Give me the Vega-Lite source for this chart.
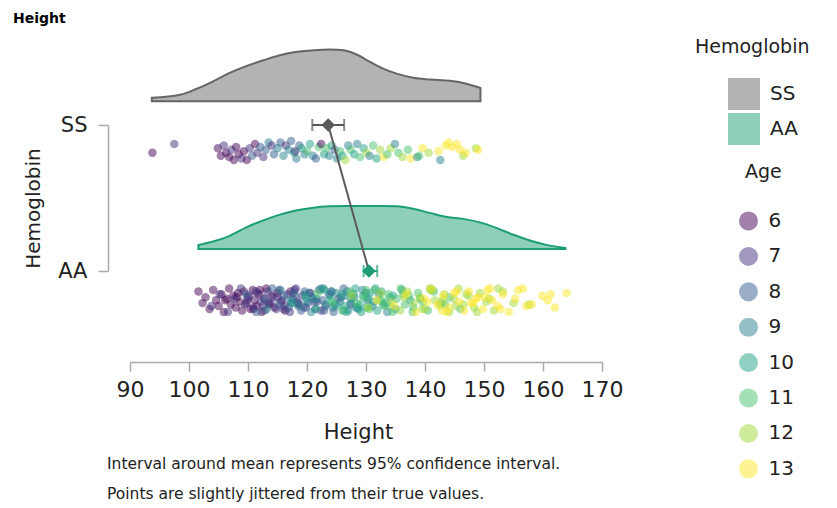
{
  "$schema": "https://vega.github.io/schema/vega-lite/v6.json",
  "padding": {"left": 12, "top": 12, "right": 5, "bottom": 5},
  "title": {"text": "Height", "anchor": "start", "frame": "bounds", "dx": -10, "fontSize": 14, "fontWeight": "bold", "color": "#000", "offset": 12},
  "datasets": {
    "points": [
      {"Hemoglobin":"SS","Age":6,"Height":93.8,"Lane":0.81},{"Hemoglobin":"SS","Age":7,"Height":97.5,"Lane":0.87},
      {"Hemoglobin":"SS","Age":6,"Height":104.9,"Lane":0.84},{"Hemoglobin":"SS","Age":6,"Height":105.4,"Lane":0.79},
      {"Hemoglobin":"SS","Age":7,"Height":105.9,"Lane":0.86},{"Hemoglobin":"SS","Age":6,"Height":106.3,"Lane":0.81},
      {"Hemoglobin":"SS","Age":6,"Height":106.8,"Lane":0.78},{"Hemoglobin":"SS","Age":7,"Height":107.2,"Lane":0.83},
      {"Hemoglobin":"SS","Age":6,"Height":107.6,"Lane":0.76},{"Hemoglobin":"SS","Age":6,"Height":108.0,"Lane":0.85},
      {"Hemoglobin":"SS","Age":6,"Height":108.4,"Lane":0.80},{"Hemoglobin":"SS","Age":7,"Height":108.9,"Lane":0.77},
      {"Hemoglobin":"SS","Age":6,"Height":109.3,"Lane":0.82},{"Hemoglobin":"SS","Age":6,"Height":109.8,"Lane":0.76},
      {"Hemoglobin":"SS","Age":7,"Height":110.3,"Lane":0.84},{"Hemoglobin":"SS","Age":8,"Height":110.7,"Lane":0.79},
      {"Hemoglobin":"SS","Age":6,"Height":111.2,"Lane":0.87},{"Hemoglobin":"SS","Age":7,"Height":111.6,"Lane":0.81},
      {"Hemoglobin":"SS","Age":8,"Height":112.1,"Lane":0.85},{"Hemoglobin":"SS","Age":7,"Height":112.6,"Lane":0.78},
      {"Hemoglobin":"SS","Age":8,"Height":113.0,"Lane":0.83},{"Hemoglobin":"SS","Age":9,"Height":113.5,"Lane":0.88},
      {"Hemoglobin":"SS","Age":7,"Height":114.0,"Lane":0.86},{"Hemoglobin":"SS","Age":8,"Height":114.4,"Lane":0.80},
      {"Hemoglobin":"SS","Age":9,"Height":115.0,"Lane":0.84},{"Hemoglobin":"SS","Age":8,"Height":115.5,"Lane":0.88},
      {"Hemoglobin":"SS","Age":9,"Height":116.0,"Lane":0.79},{"Hemoglobin":"SS","Age":7,"Height":116.4,"Lane":0.86},
      {"Hemoglobin":"SS","Age":9,"Height":116.9,"Lane":0.83},{"Hemoglobin":"SS","Age":8,"Height":117.3,"Lane":0.89},
      {"Hemoglobin":"SS","Age":10,"Height":117.8,"Lane":0.81},{"Hemoglobin":"SS","Age":9,"Height":118.2,"Lane":0.77},
      {"Hemoglobin":"SS","Age":8,"Height":118.7,"Lane":0.86},{"Hemoglobin":"SS","Age":10,"Height":119.1,"Lane":0.84},
      {"Hemoglobin":"SS","Age":9,"Height":119.6,"Lane":0.80},{"Hemoglobin":"SS","Age":11,"Height":120.0,"Lane":0.82},
      {"Hemoglobin":"SS","Age":10,"Height":120.5,"Lane":0.87},{"Hemoglobin":"SS","Age":9,"Height":121.0,"Lane":0.79},
      {"Hemoglobin":"SS","Age":8,"Height":121.5,"Lane":0.77},{"Hemoglobin":"SS","Age":11,"Height":122.0,"Lane":0.85},
      {"Hemoglobin":"SS","Age":6,"Height":122.4,"Lane":0.87},{"Hemoglobin":"SS","Age":10,"Height":122.9,"Lane":0.80},
      {"Hemoglobin":"SS","Age":11,"Height":123.3,"Lane":0.84},{"Hemoglobin":"SS","Age":9,"Height":123.8,"Lane":0.79},
      {"Hemoglobin":"SS","Age":10,"Height":124.2,"Lane":0.86},{"Hemoglobin":"SS","Age":8,"Height":124.7,"Lane":0.83},
      {"Hemoglobin":"SS","Age":9,"Height":125.1,"Lane":0.77},{"Hemoglobin":"SS","Age":11,"Height":125.6,"Lane":0.82},
      {"Hemoglobin":"SS","Age":10,"Height":126.0,"Lane":0.79},{"Hemoglobin":"SS","Age":12,"Height":126.5,"Lane":0.76},
      {"Hemoglobin":"SS","Age":9,"Height":127.0,"Lane":0.86},{"Hemoglobin":"SS","Age":11,"Height":127.4,"Lane":0.83},
      {"Hemoglobin":"SS","Age":10,"Height":128.0,"Lane":0.80},{"Hemoglobin":"SS","Age":9,"Height":128.5,"Lane":0.87},
      {"Hemoglobin":"SS","Age":11,"Height":129.0,"Lane":0.78},{"Hemoglobin":"SS","Age":10,"Height":129.6,"Lane":0.84},
      {"Hemoglobin":"SS","Age":12,"Height":130.1,"Lane":0.81},{"Hemoglobin":"SS","Age":9,"Height":130.6,"Lane":0.79},
      {"Hemoglobin":"SS","Age":11,"Height":131.2,"Lane":0.86},{"Hemoglobin":"SS","Age":10,"Height":131.8,"Lane":0.77},
      {"Hemoglobin":"SS","Age":12,"Height":132.4,"Lane":0.83},{"Hemoglobin":"SS","Age":13,"Height":133.0,"Lane":0.78},
      {"Hemoglobin":"SS","Age":11,"Height":133.6,"Lane":0.80},{"Hemoglobin":"SS","Age":12,"Height":134.2,"Lane":0.84},
      {"Hemoglobin":"SS","Age":9,"Height":134.9,"Lane":0.87},{"Hemoglobin":"SS","Age":11,"Height":135.5,"Lane":0.81},
      {"Hemoglobin":"SS","Age":12,"Height":136.2,"Lane":0.78},{"Hemoglobin":"SS","Age":11,"Height":137.1,"Lane":0.83},
      {"Hemoglobin":"SS","Age":13,"Height":137.6,"Lane":0.77},{"Hemoglobin":"SS","Age":9,"Height":138.7,"Lane":0.78},
      {"Hemoglobin":"SS","Age":11,"Height":139.0,"Lane":0.79},{"Hemoglobin":"SS","Age":13,"Height":139.6,"Lane":0.84},
      {"Hemoglobin":"SS","Age":12,"Height":140.6,"Lane":0.81},{"Hemoglobin":"SS","Age":13,"Height":142.3,"Lane":0.82},
      {"Hemoglobin":"SS","Age":9,"Height":142.6,"Lane":0.76},{"Hemoglobin":"SS","Age":13,"Height":143.5,"Lane":0.86},
      {"Hemoglobin":"SS","Age":13,"Height":144.0,"Lane":0.88},{"Hemoglobin":"SS","Age":13,"Height":144.6,"Lane":0.85},
      {"Hemoglobin":"SS","Age":13,"Height":145.4,"Lane":0.87},{"Hemoglobin":"SS","Age":13,"Height":145.9,"Lane":0.83},
      {"Hemoglobin":"SS","Age":12,"Height":146.5,"Lane":0.79},{"Hemoglobin":"SS","Age":13,"Height":146.9,"Lane":0.81},
      {"Hemoglobin":"SS","Age":12,"Height":148.6,"Lane":0.84},{"Hemoglobin":"SS","Age":13,"Height":149.0,"Lane":0.83},
      {"Hemoglobin":"SS","Age":7,"Height":118.0,"Lane":0.82},

      {"Hemoglobin":"AA","Age":6,"Height":101.6,"Lane":-0.14},{"Hemoglobin":"AA","Age":6,"Height":102.3,"Lane":-0.22},
      {"Hemoglobin":"AA","Age":6,"Height":102.8,"Lane":-0.18},{"Hemoglobin":"AA","Age":6,"Height":103.5,"Lane":-0.26},
      {"Hemoglobin":"AA","Age":6,"Height":104.1,"Lane":-0.13},{"Hemoglobin":"AA","Age":6,"Height":104.6,"Lane":-0.20},
      {"Hemoglobin":"AA","Age":6,"Height":105.0,"Lane":-0.24},{"Hemoglobin":"AA","Age":6,"Height":105.5,"Lane":-0.16},
      {"Hemoglobin":"AA","Age":6,"Height":105.9,"Lane":-0.28},{"Hemoglobin":"AA","Age":6,"Height":106.4,"Lane":-0.19},
      {"Hemoglobin":"AA","Age":6,"Height":106.8,"Lane":-0.12},{"Hemoglobin":"AA","Age":6,"Height":107.1,"Lane":-0.23},
      {"Hemoglobin":"AA","Age":6,"Height":107.5,"Lane":-0.17},{"Hemoglobin":"AA","Age":6,"Height":107.9,"Lane":-0.25},
      {"Hemoglobin":"AA","Age":6,"Height":108.3,"Lane":-0.15},{"Hemoglobin":"AA","Age":6,"Height":108.6,"Lane":-0.21},
      {"Hemoglobin":"AA","Age":6,"Height":109.0,"Lane":-0.27},{"Hemoglobin":"AA","Age":6,"Height":109.3,"Lane":-0.14},
      {"Hemoglobin":"AA","Age":6,"Height":109.7,"Lane":-0.22},{"Hemoglobin":"AA","Age":6,"Height":110.0,"Lane":-0.18},
      {"Hemoglobin":"AA","Age":6,"Height":110.4,"Lane":-0.26},{"Hemoglobin":"AA","Age":6,"Height":110.8,"Lane":-0.13},
      {"Hemoglobin":"AA","Age":6,"Height":111.1,"Lane":-0.20},{"Hemoglobin":"AA","Age":6,"Height":111.5,"Lane":-0.24},
      {"Hemoglobin":"AA","Age":6,"Height":111.9,"Lane":-0.16},{"Hemoglobin":"AA","Age":6,"Height":112.3,"Lane":-0.28},
      {"Hemoglobin":"AA","Age":6,"Height":112.7,"Lane":-0.19},{"Hemoglobin":"AA","Age":6,"Height":113.1,"Lane":-0.12},
      {"Hemoglobin":"AA","Age":6,"Height":113.6,"Lane":-0.23},{"Hemoglobin":"AA","Age":6,"Height":114.0,"Lane":-0.17},
      {"Hemoglobin":"AA","Age":6,"Height":114.5,"Lane":-0.25},{"Hemoglobin":"AA","Age":6,"Height":115.0,"Lane":-0.15},
      {"Hemoglobin":"AA","Age":6,"Height":115.6,"Lane":-0.21},{"Hemoglobin":"AA","Age":6,"Height":116.3,"Lane":-0.27},
      {"Hemoglobin":"AA","Age":6,"Height":117.2,"Lane":-0.14},{"Hemoglobin":"AA","Age":6,"Height":118.4,"Lane":-0.22},
      {"Hemoglobin":"AA","Age":6,"Height":108.1,"Lane":-0.18},{"Hemoglobin":"AA","Age":6,"Height":110.9,"Lane":-0.26},
      {"Hemoglobin":"AA","Age":6,"Height":112.0,"Lane":-0.13},{"Hemoglobin":"AA","Age":6,"Height":106.1,"Lane":-0.20},

      {"Hemoglobin":"AA","Age":7,"Height":103.8,"Lane":-0.24},{"Hemoglobin":"AA","Age":7,"Height":105.2,"Lane":-0.16},
      {"Hemoglobin":"AA","Age":7,"Height":106.6,"Lane":-0.28},{"Hemoglobin":"AA","Age":7,"Height":107.7,"Lane":-0.19},
      {"Hemoglobin":"AA","Age":7,"Height":108.8,"Lane":-0.12},{"Hemoglobin":"AA","Age":7,"Height":109.5,"Lane":-0.23},
      {"Hemoglobin":"AA","Age":7,"Height":110.2,"Lane":-0.17},{"Hemoglobin":"AA","Age":7,"Height":110.9,"Lane":-0.25},
      {"Hemoglobin":"AA","Age":7,"Height":111.6,"Lane":-0.15},{"Hemoglobin":"AA","Age":7,"Height":112.2,"Lane":-0.21},
      {"Hemoglobin":"AA","Age":7,"Height":112.8,"Lane":-0.27},{"Hemoglobin":"AA","Age":7,"Height":113.3,"Lane":-0.14},
      {"Hemoglobin":"AA","Age":7,"Height":113.8,"Lane":-0.22},{"Hemoglobin":"AA","Age":7,"Height":114.3,"Lane":-0.18},
      {"Hemoglobin":"AA","Age":7,"Height":114.8,"Lane":-0.26},{"Hemoglobin":"AA","Age":7,"Height":115.3,"Lane":-0.13},
      {"Hemoglobin":"AA","Age":7,"Height":115.8,"Lane":-0.20},{"Hemoglobin":"AA","Age":7,"Height":116.2,"Lane":-0.24},
      {"Hemoglobin":"AA","Age":7,"Height":116.7,"Lane":-0.16},{"Hemoglobin":"AA","Age":7,"Height":117.1,"Lane":-0.28},
      {"Hemoglobin":"AA","Age":7,"Height":117.6,"Lane":-0.19},{"Hemoglobin":"AA","Age":7,"Height":118.1,"Lane":-0.12},
      {"Hemoglobin":"AA","Age":7,"Height":118.6,"Lane":-0.23},{"Hemoglobin":"AA","Age":7,"Height":119.2,"Lane":-0.17},
      {"Hemoglobin":"AA","Age":7,"Height":119.8,"Lane":-0.25},{"Hemoglobin":"AA","Age":7,"Height":120.5,"Lane":-0.15},
      {"Hemoglobin":"AA","Age":7,"Height":121.3,"Lane":-0.21},{"Hemoglobin":"AA","Age":7,"Height":122.4,"Lane":-0.27},
      {"Hemoglobin":"AA","Age":7,"Height":111.3,"Lane":-0.14},{"Hemoglobin":"AA","Age":7,"Height":113.5,"Lane":-0.22},
      {"Hemoglobin":"AA","Age":7,"Height":115.0,"Lane":-0.18},{"Hemoglobin":"AA","Age":7,"Height":116.0,"Lane":-0.26},
      {"Hemoglobin":"AA","Age":7,"Height":117.9,"Lane":-0.13},{"Hemoglobin":"AA","Age":7,"Height":109.9,"Lane":-0.20},
      {"Hemoglobin":"AA","Age":7,"Height":112.5,"Lane":-0.24},

      {"Hemoglobin":"AA","Age":8,"Height":109.6,"Lane":-0.16},{"Hemoglobin":"AA","Age":8,"Height":111.4,"Lane":-0.28},
      {"Hemoglobin":"AA","Age":8,"Height":112.9,"Lane":-0.19},{"Hemoglobin":"AA","Age":8,"Height":114.1,"Lane":-0.12},
      {"Hemoglobin":"AA","Age":8,"Height":115.2,"Lane":-0.23},{"Hemoglobin":"AA","Age":8,"Height":116.1,"Lane":-0.17},
      {"Hemoglobin":"AA","Age":8,"Height":116.9,"Lane":-0.25},{"Hemoglobin":"AA","Age":8,"Height":117.7,"Lane":-0.15},
      {"Hemoglobin":"AA","Age":8,"Height":118.4,"Lane":-0.21},{"Hemoglobin":"AA","Age":8,"Height":119.0,"Lane":-0.27},
      {"Hemoglobin":"AA","Age":8,"Height":119.6,"Lane":-0.14},{"Hemoglobin":"AA","Age":8,"Height":120.2,"Lane":-0.22},
      {"Hemoglobin":"AA","Age":8,"Height":120.8,"Lane":-0.18},{"Hemoglobin":"AA","Age":8,"Height":121.4,"Lane":-0.26},
      {"Hemoglobin":"AA","Age":8,"Height":122.0,"Lane":-0.13},{"Hemoglobin":"AA","Age":8,"Height":122.6,"Lane":-0.20},
      {"Hemoglobin":"AA","Age":8,"Height":123.2,"Lane":-0.24},{"Hemoglobin":"AA","Age":8,"Height":123.8,"Lane":-0.16},
      {"Hemoglobin":"AA","Age":8,"Height":124.5,"Lane":-0.28},{"Hemoglobin":"AA","Age":8,"Height":125.3,"Lane":-0.19},
      {"Hemoglobin":"AA","Age":8,"Height":126.2,"Lane":-0.12},{"Hemoglobin":"AA","Age":8,"Height":127.4,"Lane":-0.23},
      {"Hemoglobin":"AA","Age":8,"Height":118.0,"Lane":-0.17},{"Hemoglobin":"AA","Age":8,"Height":119.4,"Lane":-0.25},
      {"Hemoglobin":"AA","Age":8,"Height":120.5,"Lane":-0.15},{"Hemoglobin":"AA","Age":8,"Height":121.7,"Lane":-0.21},
      {"Hemoglobin":"AA","Age":8,"Height":122.9,"Lane":-0.27},{"Hemoglobin":"AA","Age":8,"Height":124.1,"Lane":-0.14},
      {"Hemoglobin":"AA","Age":8,"Height":117.3,"Lane":-0.22},{"Hemoglobin":"AA","Age":8,"Height":125.8,"Lane":-0.18},

      {"Hemoglobin":"AA","Age":9,"Height":113.2,"Lane":-0.26},{"Hemoglobin":"AA","Age":9,"Height":115.5,"Lane":-0.13},
      {"Hemoglobin":"AA","Age":9,"Height":117.2,"Lane":-0.20},{"Hemoglobin":"AA","Age":9,"Height":118.5,"Lane":-0.24},
      {"Hemoglobin":"AA","Age":9,"Height":119.7,"Lane":-0.16},{"Hemoglobin":"AA","Age":9,"Height":120.7,"Lane":-0.28},
      {"Hemoglobin":"AA","Age":9,"Height":121.6,"Lane":-0.19},{"Hemoglobin":"AA","Age":9,"Height":122.4,"Lane":-0.12},
      {"Hemoglobin":"AA","Age":9,"Height":123.1,"Lane":-0.23},{"Hemoglobin":"AA","Age":9,"Height":123.8,"Lane":-0.17},
      {"Hemoglobin":"AA","Age":9,"Height":124.4,"Lane":-0.25},{"Hemoglobin":"AA","Age":9,"Height":125.0,"Lane":-0.15},
      {"Hemoglobin":"AA","Age":9,"Height":125.6,"Lane":-0.21},{"Hemoglobin":"AA","Age":9,"Height":126.2,"Lane":-0.27},
      {"Hemoglobin":"AA","Age":9,"Height":126.8,"Lane":-0.14},{"Hemoglobin":"AA","Age":9,"Height":127.4,"Lane":-0.22},
      {"Hemoglobin":"AA","Age":9,"Height":128.0,"Lane":-0.18},{"Hemoglobin":"AA","Age":9,"Height":128.7,"Lane":-0.26},
      {"Hemoglobin":"AA","Age":9,"Height":129.4,"Lane":-0.13},{"Hemoglobin":"AA","Age":9,"Height":130.2,"Lane":-0.20},
      {"Hemoglobin":"AA","Age":9,"Height":131.1,"Lane":-0.24},{"Hemoglobin":"AA","Age":9,"Height":132.2,"Lane":-0.16},
      {"Hemoglobin":"AA","Age":9,"Height":133.6,"Lane":-0.28},{"Hemoglobin":"AA","Age":9,"Height":121.0,"Lane":-0.19},
      {"Hemoglobin":"AA","Age":9,"Height":122.8,"Lane":-0.12},{"Hemoglobin":"AA","Age":9,"Height":124.7,"Lane":-0.23},
      {"Hemoglobin":"AA","Age":9,"Height":126.5,"Lane":-0.17},{"Hemoglobin":"AA","Age":9,"Height":128.3,"Lane":-0.25},
      {"Hemoglobin":"AA","Age":9,"Height":130.0,"Lane":-0.15},{"Hemoglobin":"AA","Age":9,"Height":119.9,"Lane":-0.21},
      {"Hemoglobin":"AA","Age":9,"Height":127.0,"Lane":-0.27},{"Hemoglobin":"AA","Age":9,"Height":124.2,"Lane":-0.14},

      {"Hemoglobin":"AA","Age":10,"Height":117.5,"Lane":-0.22},{"Hemoglobin":"AA","Age":10,"Height":119.8,"Lane":-0.18},
      {"Hemoglobin":"AA","Age":10,"Height":121.5,"Lane":-0.26},{"Hemoglobin":"AA","Age":10,"Height":122.9,"Lane":-0.13},
      {"Hemoglobin":"AA","Age":10,"Height":124.0,"Lane":-0.20},{"Hemoglobin":"AA","Age":10,"Height":125.0,"Lane":-0.24},
      {"Hemoglobin":"AA","Age":10,"Height":125.9,"Lane":-0.16},{"Hemoglobin":"AA","Age":10,"Height":126.7,"Lane":-0.28},
      {"Hemoglobin":"AA","Age":10,"Height":127.5,"Lane":-0.19},{"Hemoglobin":"AA","Age":10,"Height":128.2,"Lane":-0.12},
      {"Hemoglobin":"AA","Age":10,"Height":128.9,"Lane":-0.23},{"Hemoglobin":"AA","Age":10,"Height":129.5,"Lane":-0.17},
      {"Hemoglobin":"AA","Age":10,"Height":130.1,"Lane":-0.25},{"Hemoglobin":"AA","Age":10,"Height":130.7,"Lane":-0.15},
      {"Hemoglobin":"AA","Age":10,"Height":131.3,"Lane":-0.21},{"Hemoglobin":"AA","Age":10,"Height":131.9,"Lane":-0.27},
      {"Hemoglobin":"AA","Age":10,"Height":132.6,"Lane":-0.14},{"Hemoglobin":"AA","Age":10,"Height":133.3,"Lane":-0.22},
      {"Hemoglobin":"AA","Age":10,"Height":134.1,"Lane":-0.18},{"Hemoglobin":"AA","Age":10,"Height":135.0,"Lane":-0.26},
      {"Hemoglobin":"AA","Age":10,"Height":136.1,"Lane":-0.13},{"Hemoglobin":"AA","Age":10,"Height":137.5,"Lane":-0.20},
      {"Hemoglobin":"AA","Age":10,"Height":126.3,"Lane":-0.24},{"Hemoglobin":"AA","Age":10,"Height":127.9,"Lane":-0.16},
      {"Hemoglobin":"AA","Age":10,"Height":129.2,"Lane":-0.28},{"Hemoglobin":"AA","Age":10,"Height":130.4,"Lane":-0.19},
      {"Hemoglobin":"AA","Age":10,"Height":131.6,"Lane":-0.12},{"Hemoglobin":"AA","Age":10,"Height":132.9,"Lane":-0.23},
      {"Hemoglobin":"AA","Age":10,"Height":134.6,"Lane":-0.17},{"Hemoglobin":"AA","Age":10,"Height":128.6,"Lane":-0.25},

      {"Hemoglobin":"AA","Age":11,"Height":121.8,"Lane":-0.15},{"Hemoglobin":"AA","Age":11,"Height":124.3,"Lane":-0.21},
      {"Hemoglobin":"AA","Age":11,"Height":126.0,"Lane":-0.27},{"Hemoglobin":"AA","Age":11,"Height":127.3,"Lane":-0.14},
      {"Hemoglobin":"AA","Age":11,"Height":128.5,"Lane":-0.22},{"Hemoglobin":"AA","Age":11,"Height":129.6,"Lane":-0.18},
      {"Hemoglobin":"AA","Age":11,"Height":130.6,"Lane":-0.26},{"Hemoglobin":"AA","Age":11,"Height":131.5,"Lane":-0.13},
      {"Hemoglobin":"AA","Age":11,"Height":132.3,"Lane":-0.20},{"Hemoglobin":"AA","Age":11,"Height":133.1,"Lane":-0.24},
      {"Hemoglobin":"AA","Age":11,"Height":133.8,"Lane":-0.16},{"Hemoglobin":"AA","Age":11,"Height":134.5,"Lane":-0.28},
      {"Hemoglobin":"AA","Age":11,"Height":135.2,"Lane":-0.19},{"Hemoglobin":"AA","Age":11,"Height":135.9,"Lane":-0.12},
      {"Hemoglobin":"AA","Age":11,"Height":136.6,"Lane":-0.23},{"Hemoglobin":"AA","Age":11,"Height":137.3,"Lane":-0.17},
      {"Hemoglobin":"AA","Age":11,"Height":138.0,"Lane":-0.25},{"Hemoglobin":"AA","Age":11,"Height":138.8,"Lane":-0.15},
      {"Hemoglobin":"AA","Age":11,"Height":139.6,"Lane":-0.21},{"Hemoglobin":"AA","Age":11,"Height":140.5,"Lane":-0.27},
      {"Hemoglobin":"AA","Age":11,"Height":141.5,"Lane":-0.14},{"Hemoglobin":"AA","Age":11,"Height":142.7,"Lane":-0.22},
      {"Hemoglobin":"AA","Age":11,"Height":144.2,"Lane":-0.18},{"Hemoglobin":"AA","Age":11,"Height":146.0,"Lane":-0.26},
      {"Hemoglobin":"AA","Age":11,"Height":130.0,"Lane":-0.13},{"Hemoglobin":"AA","Age":11,"Height":132.7,"Lane":-0.20},
      {"Hemoglobin":"AA","Age":11,"Height":134.0,"Lane":-0.24},{"Hemoglobin":"AA","Age":11,"Height":136.3,"Lane":-0.16},
      {"Hemoglobin":"AA","Age":11,"Height":137.9,"Lane":-0.28},{"Hemoglobin":"AA","Age":11,"Height":139.2,"Lane":-0.19},
      {"Hemoglobin":"AA","Age":11,"Height":140.9,"Lane":-0.12},{"Hemoglobin":"AA","Age":11,"Height":143.4,"Lane":-0.23},

      {"Hemoglobin":"AA","Age":12,"Height":127.6,"Lane":-0.17},{"Hemoglobin":"AA","Age":12,"Height":130.3,"Lane":-0.25},
      {"Hemoglobin":"AA","Age":12,"Height":132.5,"Lane":-0.15},{"Hemoglobin":"AA","Age":12,"Height":134.3,"Lane":-0.21},
      {"Hemoglobin":"AA","Age":12,"Height":135.8,"Lane":-0.27},{"Hemoglobin":"AA","Age":12,"Height":137.0,"Lane":-0.14},
      {"Hemoglobin":"AA","Age":12,"Height":138.1,"Lane":-0.22},{"Hemoglobin":"AA","Age":12,"Height":139.1,"Lane":-0.18},
      {"Hemoglobin":"AA","Age":12,"Height":140.0,"Lane":-0.26},{"Hemoglobin":"AA","Age":12,"Height":140.9,"Lane":-0.13},
      {"Hemoglobin":"AA","Age":12,"Height":141.7,"Lane":-0.20},{"Hemoglobin":"AA","Age":12,"Height":142.5,"Lane":-0.24},
      {"Hemoglobin":"AA","Age":12,"Height":143.3,"Lane":-0.16},{"Hemoglobin":"AA","Age":12,"Height":144.1,"Lane":-0.28},
      {"Hemoglobin":"AA","Age":12,"Height":144.9,"Lane":-0.19},{"Hemoglobin":"AA","Age":12,"Height":145.7,"Lane":-0.12},
      {"Hemoglobin":"AA","Age":12,"Height":146.5,"Lane":-0.23},{"Hemoglobin":"AA","Age":12,"Height":147.4,"Lane":-0.17},
      {"Hemoglobin":"AA","Age":12,"Height":148.3,"Lane":-0.25},{"Hemoglobin":"AA","Age":12,"Height":149.3,"Lane":-0.15},
      {"Hemoglobin":"AA","Age":12,"Height":150.4,"Lane":-0.21},{"Hemoglobin":"AA","Age":12,"Height":151.7,"Lane":-0.27},
      {"Hemoglobin":"AA","Age":12,"Height":153.2,"Lane":-0.14},{"Hemoglobin":"AA","Age":12,"Height":155.0,"Lane":-0.22},
      {"Hemoglobin":"AA","Age":12,"Height":136.5,"Lane":-0.18},{"Hemoglobin":"AA","Age":12,"Height":139.5,"Lane":-0.26},
      {"Hemoglobin":"AA","Age":12,"Height":141.3,"Lane":-0.13},{"Hemoglobin":"AA","Age":12,"Height":143.0,"Lane":-0.20},
      {"Hemoglobin":"AA","Age":12,"Height":145.2,"Lane":-0.24},{"Hemoglobin":"AA","Age":12,"Height":147.0,"Lane":-0.16},
      {"Hemoglobin":"AA","Age":12,"Height":148.8,"Lane":-0.28},{"Hemoglobin":"AA","Age":12,"Height":150.9,"Lane":-0.19},
      {"Hemoglobin":"AA","Age":12,"Height":152.4,"Lane":-0.12},{"Hemoglobin":"AA","Age":12,"Height":157.6,"Lane":-0.23},

      {"Hemoglobin":"AA","Age":13,"Height":131.8,"Lane":-0.20},{"Hemoglobin":"AA","Age":13,"Height":134.8,"Lane":-0.24},
      {"Hemoglobin":"AA","Age":13,"Height":136.8,"Lane":-0.16},{"Hemoglobin":"AA","Age":13,"Height":138.4,"Lane":-0.28},
      {"Hemoglobin":"AA","Age":13,"Height":139.8,"Lane":-0.19},{"Hemoglobin":"AA","Age":13,"Height":141.0,"Lane":-0.12},
      {"Hemoglobin":"AA","Age":13,"Height":142.1,"Lane":-0.23},{"Hemoglobin":"AA","Age":13,"Height":143.1,"Lane":-0.17},
      {"Hemoglobin":"AA","Age":13,"Height":144.0,"Lane":-0.25},{"Hemoglobin":"AA","Age":13,"Height":144.9,"Lane":-0.15},
      {"Hemoglobin":"AA","Age":13,"Height":145.8,"Lane":-0.21},{"Hemoglobin":"AA","Age":13,"Height":146.6,"Lane":-0.27},
      {"Hemoglobin":"AA","Age":13,"Height":147.4,"Lane":-0.14},{"Hemoglobin":"AA","Age":13,"Height":148.2,"Lane":-0.22},
      {"Hemoglobin":"AA","Age":13,"Height":149.0,"Lane":-0.18},{"Hemoglobin":"AA","Age":13,"Height":149.8,"Lane":-0.26},
      {"Hemoglobin":"AA","Age":13,"Height":150.6,"Lane":-0.13},{"Hemoglobin":"AA","Age":13,"Height":151.4,"Lane":-0.20},
      {"Hemoglobin":"AA","Age":13,"Height":152.3,"Lane":-0.24},{"Hemoglobin":"AA","Age":13,"Height":153.2,"Lane":-0.16},
      {"Hemoglobin":"AA","Age":13,"Height":154.2,"Lane":-0.28},{"Hemoglobin":"AA","Age":13,"Height":155.3,"Lane":-0.19},
      {"Hemoglobin":"AA","Age":13,"Height":156.6,"Lane":-0.12},{"Hemoglobin":"AA","Age":13,"Height":158.1,"Lane":-0.23},
      {"Hemoglobin":"AA","Age":13,"Height":159.9,"Lane":-0.17},{"Hemoglobin":"AA","Age":13,"Height":162.0,"Lane":-0.25},
      {"Hemoglobin":"AA","Age":13,"Height":164.0,"Lane":-0.15},{"Hemoglobin":"AA","Age":13,"Height":140.4,"Lane":-0.21},
      {"Hemoglobin":"AA","Age":13,"Height":142.9,"Lane":-0.27},{"Hemoglobin":"AA","Age":13,"Height":145.4,"Lane":-0.14},
      {"Hemoglobin":"AA","Age":13,"Height":147.8,"Lane":-0.22},{"Hemoglobin":"AA","Age":13,"Height":150.2,"Lane":-0.18},
      {"Hemoglobin":"AA","Age":13,"Height":152.8,"Lane":-0.26},{"Hemoglobin":"AA","Age":13,"Height":155.8,"Lane":-0.13},
      {"Hemoglobin":"AA","Age":13,"Height":160.8,"Lane":-0.20},{"Hemoglobin":"AA","Age":13,"Height":157.2,"Lane":-0.24},
      {"Hemoglobin":"AA","Age":13,"Height":161.3,"Lane":-0.16},{"Hemoglobin":"AA","Age":13,"Height":143.7,"Lane":-0.28},
      {"Hemoglobin":"AA","Age":13,"Height":148.6,"Lane":-0.19},{"Hemoglobin":"AA","Age":13,"Height":151.0,"Lane":-0.12}
    ],
    "density": [
      {"Hemoglobin":"SS","Height":93.7,"Top":1.186},{"Hemoglobin":"SS","Height":98.5,"Top":1.207},
      {"Hemoglobin":"SS","Height":101.3,"Top":1.248},{"Hemoglobin":"SS","Height":104.1,"Top":1.299},
      {"Hemoglobin":"SS","Height":106.9,"Top":1.357},{"Hemoglobin":"SS","Height":109.8,"Top":1.405},
      {"Hemoglobin":"SS","Height":112.6,"Top":1.443},{"Hemoglobin":"SS","Height":115.4,"Top":1.478},
      {"Hemoglobin":"SS","Height":118.3,"Top":1.501},{"Hemoglobin":"SS","Height":121.1,"Top":1.512},
      {"Hemoglobin":"SS","Height":123.9,"Top":1.517},{"Hemoglobin":"SS","Height":126.2,"Top":1.512},
      {"Hemoglobin":"SS","Height":128.4,"Top":1.483},{"Hemoglobin":"SS","Height":130.7,"Top":1.432},
      {"Hemoglobin":"SS","Height":132.9,"Top":1.386},{"Hemoglobin":"SS","Height":135.2,"Top":1.352},
      {"Hemoglobin":"SS","Height":138.0,"Top":1.324},{"Hemoglobin":"SS","Height":140.8,"Top":1.312},
      {"Hemoglobin":"SS","Height":144.2,"Top":1.303},{"Hemoglobin":"SS","Height":146.5,"Top":1.288},
      {"Hemoglobin":"SS","Height":149.4,"Top":1.253},
      {"Hemoglobin":"AA","Height":101.6,"Top":0.179},{"Hemoglobin":"AA","Height":104.1,"Top":0.202},
      {"Hemoglobin":"AA","Height":106.9,"Top":0.241},{"Hemoglobin":"AA","Height":109.8,"Top":0.301},
      {"Hemoglobin":"AA","Height":112.6,"Top":0.347},{"Hemoglobin":"AA","Height":115.4,"Top":0.386},
      {"Hemoglobin":"AA","Height":118.3,"Top":0.416},{"Hemoglobin":"AA","Height":121.1,"Top":0.434},
      {"Hemoglobin":"AA","Height":123.9,"Top":0.443},{"Hemoglobin":"AA","Height":126.7,"Top":0.446},
      {"Hemoglobin":"AA","Height":129.5,"Top":0.446},{"Hemoglobin":"AA","Height":132.4,"Top":0.446},
      {"Hemoglobin":"AA","Height":135.2,"Top":0.443},{"Hemoglobin":"AA","Height":138.0,"Top":0.426},
      {"Hemoglobin":"AA","Height":140.8,"Top":0.398},{"Hemoglobin":"AA","Height":143.7,"Top":0.370},
      {"Hemoglobin":"AA","Height":146.5,"Top":0.357},{"Hemoglobin":"AA","Height":149.3,"Top":0.333},
      {"Hemoglobin":"AA","Height":152.2,"Top":0.294},{"Hemoglobin":"AA","Height":155.0,"Top":0.248},
      {"Hemoglobin":"AA","Height":157.8,"Top":0.209},{"Hemoglobin":"AA","Height":160.6,"Top":0.179},
      {"Hemoglobin":"AA","Height":163.8,"Top":0.157}
    ],
    "means": [
      {"Hemoglobin":"SS","Lane":1,"Mean":123.6,"Lo":120.9,"Hi":126.3},
      {"Hemoglobin":"AA","Lane":0,"Mean":130.5,"Lo":129.6,"Hi":131.9}
    ]
  },
  "vconcat": [
    {
      "width": 472,
      "height": 146,
      "title": {
        "text": ["Interval around mean represents 95% confidence interval.", "Points are slightly jittered from their true values."],
        "orient": "bottom", "anchor": "start", "frame": "group", "dx": -23,
        "fontSize": 15.5, "fontWeight": "normal", "color": "#222", "lineHeight": 30, "offset": 15
      },
      "layer": [
        {
          "data": {"name": "density"},
          "transform": [{"filter": "datum.Hemoglobin === 'SS'"}],
          "mark": {"type": "area", "interpolate": "monotone", "stroke": "#666666", "strokeWidth": 2, "fillOpacity": 1},
          "encoding": {
            "x": {"field": "Height", "type": "quantitative", "title": "Height", "scale": {"domain": [90, 170], "nice": false, "zero": false}, "axis": {"values": [90, 100, 110, 120, 130, 140, 150, 160, 170], "labelOverlap": false, "labelFlush": false}},
            "y": {"field": "Top", "type": "quantitative", "title": "Hemoglobin", "scale": {"domain": [0, 1], "nice": false, "zero": false}, "axis": {"values": [0, 1], "labelExpr": "datum.value === 1 ? 'SS' : 'AA'", "labelFlush": false}},
            "y2": {"datum": 1.163},
            "fill": {
              "field": "Hemoglobin", "type": "nominal",
              "scale": {"domain": ["SS", "AA"], "range": ["#b3b3b3", "#8dcfb9"]},
              "legend": {
                "orient": "none", "legendX": 565, "legendY": -87, "title": "Hemoglobin",
                "titleFontSize": 19, "titleFontWeight": "normal", "titleColor": "#222", "titlePadding": 21,
                "labelFontSize": 20, "labelColor": "#222", "symbolType": "square", "symbolSize": 1024,
                "symbolStrokeWidth": 0, "symbolOffset": 33, "labelOffset": 10, "rowPadding": 3
              }
            }
          }
        },
        {
          "data": {"name": "density"},
          "transform": [{"filter": "datum.Hemoglobin === 'AA'"}],
          "mark": {"type": "area", "interpolate": "monotone", "stroke": "#1b9e77", "strokeWidth": 2, "fillOpacity": 1},
          "encoding": {
            "x": {"field": "Height", "type": "quantitative", "title": "Height", "scale": {"domain": [90, 170], "nice": false, "zero": false}, "axis": {"values": [90, 100, 110, 120, 130, 140, 150, 160, 170], "labelOverlap": false, "labelFlush": false}},
            "y": {"field": "Top", "type": "quantitative", "title": "Hemoglobin", "scale": {"domain": [0, 1], "nice": false, "zero": false}, "axis": {"values": [0, 1], "labelExpr": "datum.value === 1 ? 'SS' : 'AA'", "labelFlush": false}},
            "y2": {"datum": 0.15},
            "fill": {"field": "Hemoglobin", "type": "nominal", "scale": {"domain": ["SS", "AA"], "range": ["#b3b3b3", "#8dcfb9"]}}
          }
        },
        {
          "data": {"name": "points"},
          "mark": {"type": "circle", "size": 72, "opacity": 0.5},
          "encoding": {
            "x": {"field": "Height", "type": "quantitative", "title": "Height", "scale": {"domain": [90, 170], "nice": false, "zero": false}, "axis": {"values": [90, 100, 110, 120, 130, 140, 150, 160, 170], "labelOverlap": false, "labelFlush": false}},
            "y": {"field": "Lane", "type": "quantitative", "title": "Hemoglobin", "scale": {"domain": [0, 1], "nice": false, "zero": false}, "axis": {"values": [0, 1], "labelExpr": "datum.value === 1 ? 'SS' : 'AA'", "labelFlush": false}},
            "color": {
              "field": "Age", "type": "ordinal",
              "scale": {"range": ["#440154", "#46327e", "#365c8d", "#277f8e", "#1fa187", "#4ac16d", "#a0da39", "#fde725"]},
              "legend": {
                "orient": "none", "legendX": 615, "legendY": 38, "title": "Age",
                "titleFontSize": 19, "titleFontWeight": "normal", "titleColor": "#222", "titlePadding": 29,
                "labelFontSize": 20, "labelColor": "#222", "symbolType": "circle", "symbolSize": 361,
                "symbolStrokeWidth": 0, "symbolOffset": -6.5, "labelOffset": 10, "rowPadding": 15.4
              }
            }
          }
        },
        {
          "data": {"name": "means"},
          "mark": {"type": "line", "color": "#5a5a5a", "strokeWidth": 2},
          "encoding": {
            "x": {"field": "Mean", "type": "quantitative", "title": "Height", "scale": {"domain": [90, 170], "nice": false, "zero": false}, "axis": {"values": [90, 100, 110, 120, 130, 140, 150, 160, 170], "labelOverlap": false, "labelFlush": false}},
            "y": {"field": "Lane", "type": "quantitative", "title": "Hemoglobin", "scale": {"domain": [0, 1], "nice": false, "zero": false}, "axis": {"values": [0, 1], "labelExpr": "datum.value === 1 ? 'SS' : 'AA'", "labelFlush": false}},
            "order": {"field": "Lane"}
          }
        },
        {
          "data": {"name": "means"},
          "mark": {"type": "rule", "strokeWidth": 2},
          "encoding": {
            "x": {"field": "Lo", "type": "quantitative", "title": "Height", "scale": {"domain": [90, 170], "nice": false, "zero": false}, "axis": {"values": [90, 100, 110, 120, 130, 140, 150, 160, 170], "labelOverlap": false, "labelFlush": false}},
            "x2": {"field": "Hi"},
            "y": {"field": "Lane", "type": "quantitative", "title": "Hemoglobin", "scale": {"domain": [0, 1], "nice": false, "zero": false}, "axis": {"values": [0, 1], "labelExpr": "datum.value === 1 ? 'SS' : 'AA'", "labelFlush": false}},
            "color": {"condition": {"test": "datum.Hemoglobin === 'SS'", "value": "#5a5a5a"}, "value": "#1b9e77"}
          }
        },
        {
          "data": {"name": "means"},
          "mark": {"type": "tick", "orient": "vertical", "size": 12, "thickness": 2},
          "encoding": {
            "x": {"field": "Lo", "type": "quantitative", "title": "Height", "scale": {"domain": [90, 170], "nice": false, "zero": false}, "axis": {"values": [90, 100, 110, 120, 130, 140, 150, 160, 170], "labelOverlap": false, "labelFlush": false}},
            "y": {"field": "Lane", "type": "quantitative", "title": "Hemoglobin", "scale": {"domain": [0, 1], "nice": false, "zero": false}, "axis": {"values": [0, 1], "labelExpr": "datum.value === 1 ? 'SS' : 'AA'", "labelFlush": false}},
            "color": {"condition": {"test": "datum.Hemoglobin === 'SS'", "value": "#5a5a5a"}, "value": "#1b9e77"}
          }
        },
        {
          "data": {"name": "means"},
          "mark": {"type": "tick", "orient": "vertical", "size": 12, "thickness": 2},
          "encoding": {
            "x": {"field": "Hi", "type": "quantitative", "title": "Height", "scale": {"domain": [90, 170], "nice": false, "zero": false}, "axis": {"values": [90, 100, 110, 120, 130, 140, 150, 160, 170], "labelOverlap": false, "labelFlush": false}},
            "y": {"field": "Lane", "type": "quantitative", "title": "Hemoglobin", "scale": {"domain": [0, 1], "nice": false, "zero": false}, "axis": {"values": [0, 1], "labelExpr": "datum.value === 1 ? 'SS' : 'AA'", "labelFlush": false}},
            "color": {"condition": {"test": "datum.Hemoglobin === 'SS'", "value": "#5a5a5a"}, "value": "#1b9e77"}
          }
        },
        {
          "data": {"name": "means"},
          "mark": {"type": "point", "shape": "diamond", "filled": true, "size": 180, "opacity": 1},
          "encoding": {
            "x": {"field": "Mean", "type": "quantitative", "title": "Height", "scale": {"domain": [90, 170], "nice": false, "zero": false}, "axis": {"values": [90, 100, 110, 120, 130, 140, 150, 160, 170], "labelOverlap": false, "labelFlush": false}},
            "y": {"field": "Lane", "type": "quantitative", "title": "Hemoglobin", "scale": {"domain": [0, 1], "nice": false, "zero": false}, "axis": {"values": [0, 1], "labelExpr": "datum.value === 1 ? 'SS' : 'AA'", "labelFlush": false}},
            "color": {"condition": {"test": "datum.Hemoglobin === 'SS'", "value": "#5a5a5a"}, "value": "#1b9e77"}
          }
        }
      ]
    }
  ],
  "config": {
    "font": "DejaVu Sans",
    "view": {"stroke": null},
    "axis": {"grid": false},
    "axisX": {
      "offset": 91, "labelOverlap": false, "labelFlush": false,
      "domainColor": "#aaaaaa", "tickColor": "#aaaaaa", "tickSize": 9, "domainWidth": 1.5, "tickWidth": 1.5,
      "labelFontSize": 22, "labelColor": "#222", "labelPadding": 8,
      "titleFontSize": 21, "titleFontWeight": "normal", "titleColor": "#222", "titlePadding": 21, "titleX": 228
    },
    "axisY": {
      "offset": 22, "labelFlush": false,
      "domainColor": "#aaaaaa", "tickColor": "#aaaaaa", "tickSize": 10, "domainWidth": 1.5, "tickWidth": 1.5,
      "labelFontSize": 21, "labelColor": "#222", "labelPadding": 11,
      "titleFontSize": 20, "titleFontWeight": "normal", "titleColor": "#222",
      "titleX": -75, "titleY": 83, "titleBaseline": "middle", "titleAlign": "center"
    }
  }
}
